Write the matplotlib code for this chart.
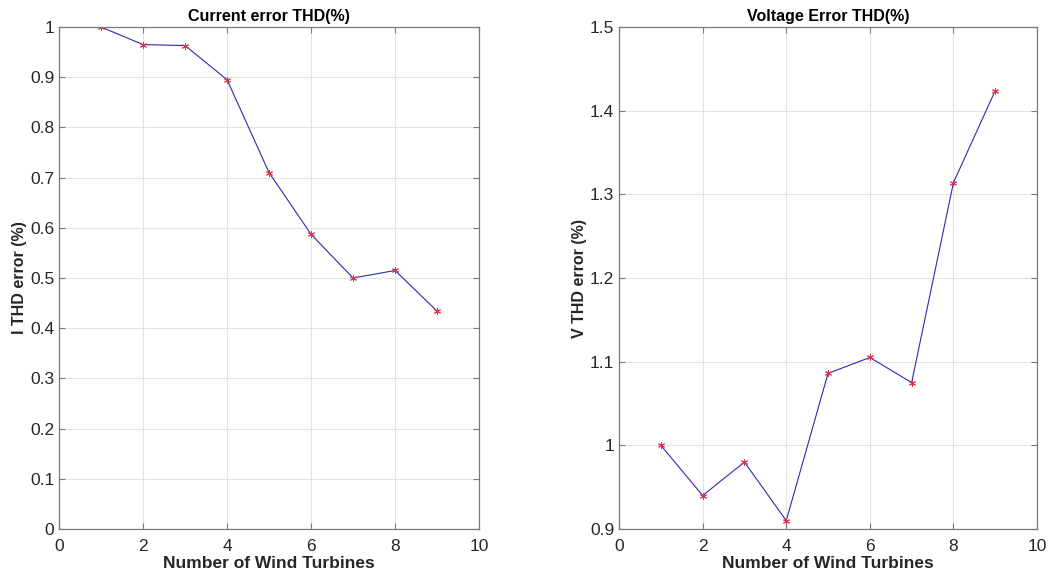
import matplotlib.pyplot as plt

plt.rcParams['font.family'] = ['Liberation Sans', 'DejaVu Sans']

turbines = [1, 2, 3, 4, 5, 6, 7, 8, 9]
i_thd = [1.0, 0.965, 0.963, 0.895, 0.71, 0.587, 0.5, 0.515, 0.434]
v_thd = [1.0, 0.94, 0.98, 0.91, 1.086, 1.105, 1.075, 1.314, 1.424]

fig = plt.figure(figsize=(10.62, 5.76), dpi=100)
ax1 = fig.add_axes([0.0556, 0.0816, 0.3955, 0.8715])
ax2 = fig.add_axes([0.5829, 0.0816, 0.3936, 0.8715])

panels = [
    (ax1, i_thd, "Current error THD(%)", "I THD error (%)", (0, 1), [0, 0.1, 0.2, 0.3, 0.4, 0.5, 0.6, 0.7, 0.8, 0.9, 1]),
    (ax2, v_thd, "Voltage Error THD(%)", "V THD error (%)", (0.9, 1.5), [0.9, 1, 1.1, 1.2, 1.3, 1.4, 1.5]),
]

for ax, vals, title, ylabel, ylim, yticks in panels:
    ax.plot(turbines, vals, color='#2b2bb0', lw=0.8)
    # MATLAB-style asterisk marker
    ax.plot(turbines, vals, ls='none', marker=(6, 2, 0), color='#e0304a', ms=5, mew=0.7)
    ax.set_xlim(0, 10)
    ax.set_ylim(*ylim)
    ax.set_xticks([0, 2, 4, 6, 8, 10])
    ax.set_yticks(yticks)
    ax.set_yticklabels([f"{t:g}" for t in yticks])
    ax.grid(True, color='#e3e3e3', lw=0.8)
    ax.set_axisbelow(True)
    for s in ax.spines.values():
        s.set_color('#7a7a7a')
        s.set_linewidth(0.9)
    ax.tick_params(direction='in', length=4, colors='#7a7a7a', labelcolor='#262626',
                   labelsize=12.5, top=True, right=True)
    ax.tick_params(axis='x', pad=7)
    ax.set_title(title, fontsize=11.5, fontweight='bold', pad=4)
    ax.set_xlabel("Number of Wind Turbines", fontsize=12.5, fontweight='bold', labelpad=2, color='#262626')
    ax.set_ylabel(ylabel, fontsize=11.5, fontweight='bold', labelpad=2, color='#262626')

fig.savefig("out.png", dpi=100)
